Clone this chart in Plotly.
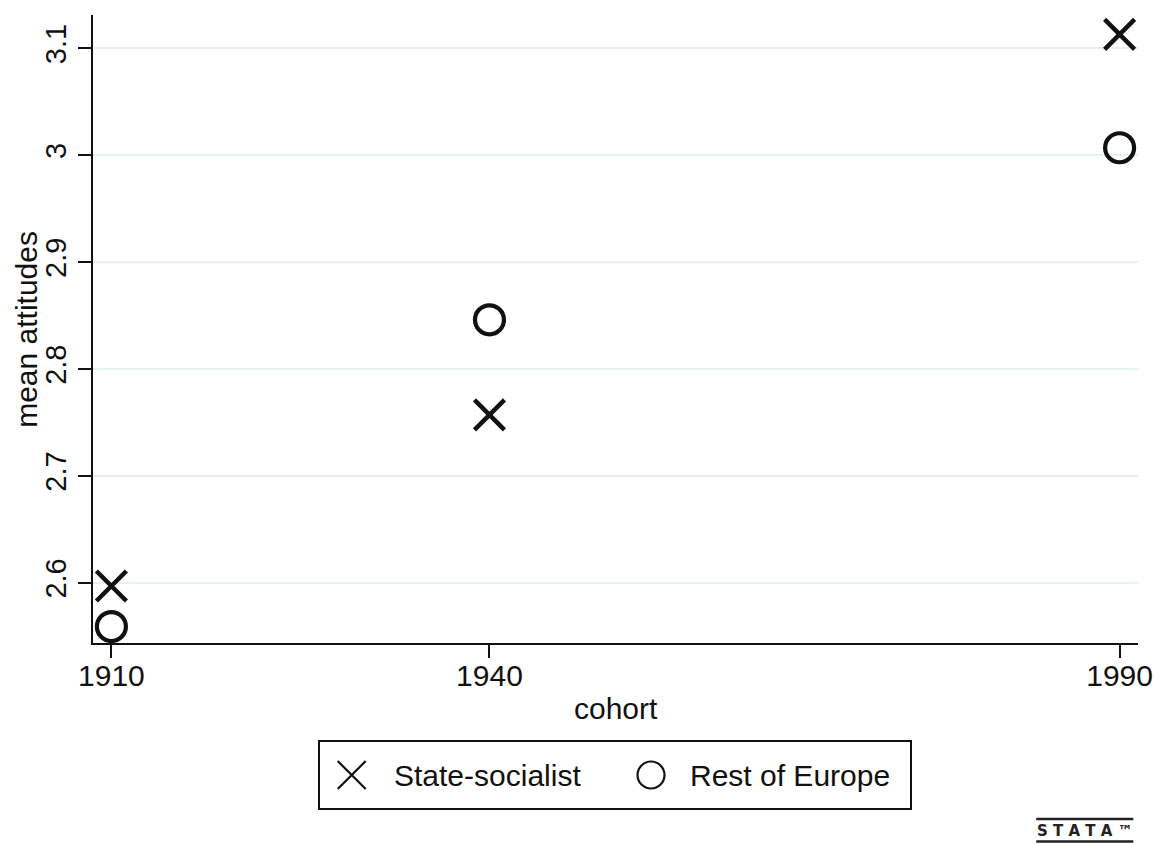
import plotly.graph_objects as go

# Mean attitudes by birth cohort, two country groups
cohorts = [1910, 1940, 1990]
state_socialist = [2.597, 2.757, 3.113]
rest_of_europe = [2.559, 2.846, 3.007]

x_ticks = [1910, 1940, 1990]
y_ticks = [2.6, 2.7, 2.8, 2.9, 3.0, 3.1]
y_tick_text = ["2.6", "2.7", "2.8", "2.9", "3", "3.1"]

series_names = ["State-socialist", "Rest of Europe"]

FONT = "Liberation Sans, Arial, sans-serif"
INK = "#111111"
GRID = "#e6f0f1"
FS = 30

W, H = 1158, 844
ML, MR, MT, MB = 93.3, 20.3, 14.7, 10
plot_w = W - ML - MR
plot_h = H - MT - MB


def px_y(py):
    return (H - MB - py) / plot_h


def px_x(px):
    return (px - ML) / plot_w


fig = go.Figure()

fig.add_trace(go.Scatter(
    x=cohorts, y=state_socialist, mode="markers", name=series_names[0],
    marker=dict(symbol="x-thin-open", size=30, color=INK,
                line=dict(width=4.5, color=INK)),
    showlegend=False, xaxis="x", yaxis="y",
))
fig.add_trace(go.Scatter(
    x=cohorts, y=rest_of_europe, mode="markers", name=series_names[1],
    marker=dict(symbol="circle-open", size=29, color=INK,
                line=dict(width=4.2, color=INK)),
    showlegend=False, xaxis="x", yaxis="y",
))

# Boxed key under the plot, drawn on its own small axis pair
key_x = [0.054, 0.561]
key_y = [0.5, 0.5]
fig.add_trace(go.Scatter(
    x=[key_x[0]], y=[key_y[0]], mode="markers", showlegend=False,
    hoverinfo="skip", xaxis="x2", yaxis="y2",
    marker=dict(symbol="x-thin-open", size=28, color=INK,
                line=dict(width=2.2, color=INK)),
))
fig.add_trace(go.Scatter(
    x=[key_x[1]], y=[key_y[1]], mode="markers", showlegend=False,
    hoverinfo="skip", xaxis="x2", yaxis="y2",
    marker=dict(symbol="circle-open", size=27, color=INK,
                line=dict(width=2.2, color=INK)),
))

main_bottom = px_y(643.3)
key_bottom, key_top = px_y(808), px_y(742)
key_left, key_right = px_x(320), px_x(910)

fig.update_layout(
    width=W, height=H,
    margin=dict(l=ML, r=MR, t=MT, b=MB),
    paper_bgcolor="white", plot_bgcolor="white",
    font=dict(family=FONT, size=FS, color=INK),
    showlegend=False,
    xaxis=dict(
        domain=[0, 1], range=[1908.54, 1991.46],
        tickmode="array", tickvals=x_ticks, ticktext=[str(v) for v in x_ticks],
        ticks="outside", ticklen=13, tickwidth=2, tickcolor=INK,
        ticklabelstandoff=-8,
        showline=True, linecolor=INK, linewidth=2,
        showgrid=False, zeroline=False,
        tickfont=dict(size=FS, family=FONT, color=INK),
        anchor="y", automargin=False,
    ),
    yaxis=dict(
        domain=[main_bottom, 1], range=[2.5433, 3.1312],
        tickmode="array", tickvals=y_ticks, ticktext=y_tick_text,
        tickangle=-90,
        ticks="outside", ticklen=13, tickwidth=2, tickcolor=INK,
        showline=True, linecolor=INK, linewidth=2,
        showgrid=True, gridcolor=GRID, gridwidth=1.5,
        zeroline=False,
        tickfont=dict(size=29, family=FONT, color=INK),
        anchor="x", automargin=False,
    ),
    xaxis2=dict(
        domain=[key_left, key_right], range=[0, 1], anchor="y2",
        showline=True, mirror=True, linecolor=INK, linewidth=1.5,
        showticklabels=False, ticks="", showgrid=False, zeroline=False,
        fixedrange=True,
    ),
    yaxis2=dict(
        domain=[key_bottom, key_top], range=[0, 1], anchor="x2",
        showline=True, mirror=True, linecolor=INK, linewidth=1.5,
        showticklabels=False, ticks="", showgrid=False, zeroline=False,
        fixedrange=True,
    ),
)

annotations = [
    # axis titles
    dict(text="cohort", xref="paper", yref="paper", x=0.5, y=px_y(708),
         xanchor="center", yanchor="middle", showarrow=False,
         font=dict(size=FS, family=FONT, color=INK)),
    dict(text="mean attitudes", xref="paper", yref="paper",
         x=px_x(27), y=px_y(329), textangle=-90,
         xanchor="center", yanchor="middle", showarrow=False,
         font=dict(size=FS, family=FONT, color=INK)),
    # key labels
    dict(text=series_names[0], xref="x2", yref="y2", x=0.122, y=0.5,
         xanchor="left", yanchor="middle", showarrow=False,
         font=dict(size=FS, family=FONT, color=INK)),
    dict(text=series_names[1], xref="x2", yref="y2", x=0.6237, y=0.5,
         xanchor="left", yanchor="middle", showarrow=False,
         font=dict(size=FS, family=FONT, color=INK)),
    # software mark
    dict(text="S T A T A \u2122", xref="paper", yref="paper",
         x=px_x(1035), y=px_y(831), xanchor="left", yanchor="middle",
         showarrow=False,
         font=dict(size=15, family="DejaVu Sans, sans-serif", color="#222222",
                   weight="bold")),
]
fig.update_layout(annotations=annotations)

fig.update_layout(shapes=[
    dict(type="line", xref="paper", yref="paper",
         x0=px_x(1036), x1=px_x(1133), y0=px_y(819), y1=px_y(819),
         line=dict(color="#222222", width=2.5)),
    dict(type="line", xref="paper", yref="paper",
         x0=px_x(1036), x1=px_x(1133), y0=px_y(841.5), y1=px_y(841.5),
         line=dict(color="#222222", width=2.5)),
])

fig.write_html("out.html")
